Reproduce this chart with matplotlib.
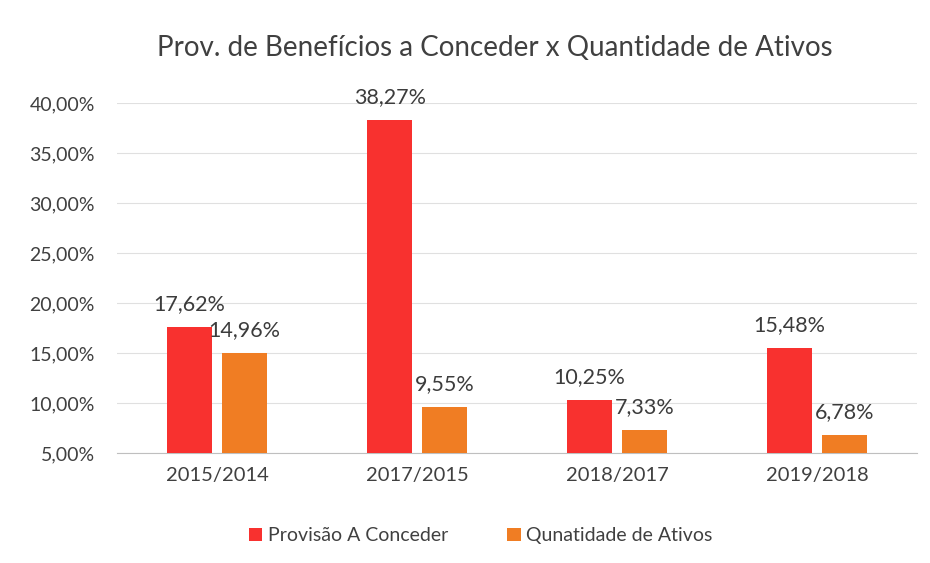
import numpy as np
import matplotlib.pyplot as plt

categories = ['2015/2014', '2017/2015', '2018/2017', '2019/2018']
provisao = [17.62, 38.27, 10.25, 15.48]
ativos = [14.96, 9.55, 7.33, 6.78]

plt.rcParams['font.family'] = ['Lato', 'DejaVu Sans']

fig = plt.figure(figsize=(9.3, 5.63), dpi=100)
ax = fig.add_axes([0.126, 0.1954, 0.86, 0.6216])

x = np.arange(len(categories))
w = 0.225
off = 0.1375
b1 = ax.bar(x - off, np.array(provisao) - 5, w, bottom=5, color='#F8312F',
            label='Provisão A Conceder', zorder=3)
b2 = ax.bar(x + off, np.array(ativos) - 5, w, bottom=5, color='#F07D23',
            label='Qunatidade de Ativos', zorder=3)

def fmt(v):
    return ('%.2f%%' % v).replace('.', ',')

for xs, vals in ((x - off, provisao), (x + off, ativos)):
    for xi, v in zip(xs, vals):
        ax.text(xi, v + 1.3, fmt(v), ha='center', va='bottom',
                fontsize=15.5, color='#3C3C3C')

ax.set_ylim(5, 40)
ax.set_xlim(-0.5, len(categories) - 0.5)
ax.set_yticks(np.arange(5, 41, 5))
ax.set_yticklabels([fmt(t) for t in np.arange(5, 41, 5)])
ax.set_xticks(x)
ax.set_xticklabels(categories)
ax.tick_params(axis='y', length=0, labelsize=14, colors='#404040', pad=16)
ax.tick_params(axis='x', length=0, labelsize=14.5, colors='#404040', pad=10)
ax.grid(axis='y', color='#E0E0E0', lw=0.8, zorder=0)
for s in ['top', 'right', 'left']:
    ax.spines[s].set_visible(False)
ax.spines['bottom'].set_color('#BFBFBF')

fig.text(0.532, 0.915, 'Prov. de Benefícios a Conceder x Quantidade de Ativos',
         ha='center', va='center', fontsize=20, color='#404040')

fig.legend(handles=[b1, b2], loc='center', bbox_to_anchor=(0.517, 0.048),
           ncol=2, frameon=False, fontsize=14, handlelength=0.7,
           handleheight=0.7, columnspacing=3, handletextpad=0.3,
           labelcolor='#404040')

fig.savefig('out.png', dpi=100, facecolor='white')
